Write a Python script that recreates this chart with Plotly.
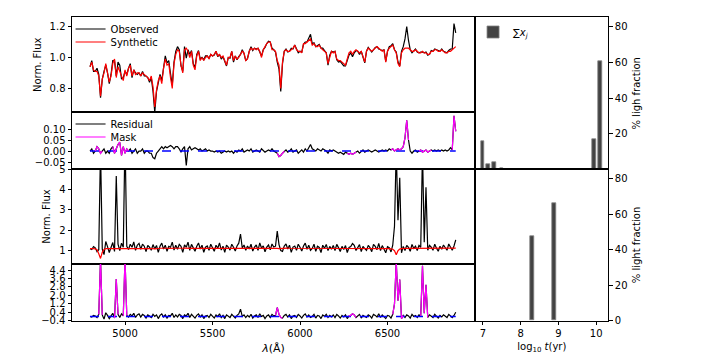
import numpy as np
import plotly.graph_objects as go

# wavelength grid of the spectra (Angstrom), 10 A sampling
wave = np.arange(4800, 6900, 10)

# ---- object 1: synthetic spectrum and residual (observed = synthetic + residual)
syn1 = [
    0.94, 0.97, 0.92, 0.91, 0.91, 0.88, 0.75, 0.86, 0.90, 0.96,
    0.90, 0.84, 0.88, 0.96, 0.99, 0.87, 0.94, 0.91, 0.88, 0.85,
    0.92, 0.88, 0.93, 0.95, 0.88, 0.92, 0.89, 0.90, 0.90, 0.88,
    0.90, 0.89, 0.88, 0.87, 0.85, 0.88, 0.81, 0.68, 0.79, 0.85,
    0.88, 0.83, 0.93, 0.99, 0.95, 0.96, 0.87, 0.80, 0.96, 1.02,
    1.05, 1.04, 0.95, 0.90, 1.05, 1.06, 1.04, 1.00, 1.04, 0.95,
    0.92, 1.01, 1.04, 0.98, 1.00, 0.98, 1.00, 1.01, 0.99, 1.02,
    1.01, 1.02, 1.04, 1.01, 1.02, 1.00, 1.01, 0.98, 0.95, 1.00,
    1.00, 1.04, 0.98, 1.01, 0.99, 1.00, 1.02, 1.04, 1.03, 0.98,
    0.99, 1.04, 1.06, 1.05, 1.06, 1.05, 1.06, 1.04, 1.00, 1.05,
    1.07, 1.09, 1.10, 1.10, 1.05, 1.05, 1.04, 0.98, 0.95, 0.80,
    0.97, 1.04, 1.05, 1.04, 1.04, 1.05, 1.06, 1.08, 1.05, 1.04,
    1.04, 1.03, 1.09, 1.09, 1.10, 1.11, 1.12, 1.08, 1.09, 1.07,
    1.07, 1.08, 1.06, 1.05, 1.04, 1.03, 0.96, 1.01, 1.04, 1.03,
    1.04, 0.99, 0.98, 0.98, 0.97, 0.96, 0.95, 0.99, 1.03, 1.04,
    1.02, 1.04, 1.05, 1.04, 1.03, 1.04, 1.00, 0.97, 1.04, 1.06,
    1.05, 1.04, 1.05, 1.06, 1.07, 1.06, 1.05, 1.04, 1.05, 0.97,
    1.04, 1.06, 1.07, 1.08, 1.05, 1.03, 0.96, 0.94, 1.03, 1.05,
    1.06, 1.06, 1.06, 1.05, 1.04, 1.04, 1.05, 1.04, 1.03, 1.03,
    1.04, 1.03, 1.03, 1.02, 1.02, 1.04, 1.04, 1.05, 1.05, 1.04,
    1.04, 1.05, 1.04, 1.03, 1.03, 1.04, 1.04, 1.05, 1.06, 1.07,
]
res1 = [
    0.00, 0.01, -0.01, 0.00, 0.02, 0.01, -0.01, 0.00, 0.01, -0.01,
    0.00, -0.01, 0.01, 0.02, -0.01, 0.01, 0.03, 0.04, -0.02, 0.02,
    -0.01, 0.01, 0.00, 0.01, -0.01, 0.00, 0.01, -0.01, 0.00, 0.00,
    0.01, -0.01, 0.00, 0.00, -0.01, -0.01, -0.03, -0.035, -0.01, 0.00,
    0.01, 0.02, 0.01, 0.02, 0.015, 0.02, 0.025, 0.02, 0.01, 0.02,
    0.02, 0.01, -0.005, 0.01, 0.02, -0.065, 0.01, 0.02, 0.005, 0.01,
    0.015, 0.01, 0.005, 0.01, 0.00, 0.005, 0.01, 0.00, 0.005, 0.00,
    0.00, -0.005, 0.00, -0.005, 0.00, -0.01, -0.005, 0.00, -0.005, 0.00,
    -0.005, 0.00, -0.01, 0.00, -0.005, 0.005, 0.00, 0.01, -0.005, 0.00,
    0.005, 0.00, 0.01, -0.005, 0.00, 0.005, 0.00, -0.005, 0.01, 0.00,
    -0.005, 0.00, 0.005, 0.00, 0.01, 0.00, -0.005, -0.01, -0.025, -0.02,
    -0.01, 0.00, 0.005, -0.005, 0.00, 0.01, -0.005, 0.00, 0.005, -0.01,
    0.00, 0.005, -0.005, 0.01, 0.00, 0.015, 0.03, 0.01, 0.005, 0.00,
    0.01, 0.005, 0.00, 0.01, 0.005, 0.00, -0.01, 0.005, 0.00, 0.005,
    0.00, -0.005, -0.01, -0.005, -0.01, -0.015, -0.005, -0.01, -0.015, -0.01,
    -0.015, -0.01, -0.005, 0.00, -0.01, 0.00, 0.005, -0.005, 0.00, 0.005,
    0.00, -0.005, 0.00, 0.005, 0.00, -0.005, 0.00, 0.005, 0.00, 0.005,
    0.00, 0.01, 0.005, 0.01, 0.00, 0.005, 0.01, 0.005, 0.01, 0.02,
    0.06, 0.14, 0.05, 0.00, -0.01, 0.00, 0.005, -0.005, 0.00, 0.005,
    -0.005, 0.00, 0.005, -0.005, 0.00, 0.005, 0.00, 0.005, 0.00, 0.005,
    0.00, 0.005, 0.00, 0.005, 0.00, 0.005, 0.015, 0.005, 0.16, 0.09,
]
mask1 = [(4830, 4870), (4930, 5020), (5870, 5910), (6270, 6320),
         (6520, 6620), (6680, 6750), (6870, 6890)]

# ---- object 2: synthetic spectrum and residual
syn2 = [
    1.10, 1.11, 1.10, 1.09, 1.05, 0.85, 0.62, 0.92, 1.06, 1.10,
    1.10, 1.11, 1.11, 1.10, 1.11, 1.12, 1.12, 1.11, 1.12, 1.12,
    1.12, 1.12, 1.11, 1.12, 1.12, 1.13, 1.12, 1.12, 1.11, 1.12,
    1.12, 1.12, 1.11, 1.11, 1.12, 1.12, 1.10, 1.09, 1.11, 1.12,
    1.12, 1.12, 1.13, 1.12, 1.12, 1.11, 1.12, 1.12, 1.13, 1.12,
    1.12, 1.11, 1.12, 1.12, 1.13, 1.12, 1.12, 1.12, 1.11, 1.12,
    1.12, 1.12, 1.13, 1.13, 1.12, 1.12, 1.12, 1.13, 1.12, 1.12,
    1.13, 1.12, 1.12, 1.12, 1.13, 1.13, 1.12, 1.12, 1.12, 1.13,
    1.13, 1.12, 1.12, 1.13, 1.13, 1.12, 1.12, 1.13, 1.13, 1.12,
    1.13, 1.13, 1.12, 1.13, 1.13, 1.13, 1.12, 1.13, 1.13, 1.14,
    1.14, 1.13, 1.13, 1.14, 1.13, 1.13, 1.12, 1.11, 1.10, 1.11,
    1.12, 1.13, 1.13, 1.13, 1.12, 1.12, 1.13, 1.13, 1.12, 1.12,
    1.12, 1.13, 1.13, 1.12, 1.12, 1.12, 1.12, 1.11, 1.12, 1.12,
    1.12, 1.11, 1.11, 1.12, 1.12, 1.11, 1.11, 1.11, 1.12, 1.11,
    1.11, 1.11, 1.10, 1.11, 1.11, 1.11, 1.10, 1.11, 1.11, 1.10,
    1.10, 1.11, 1.11, 1.10, 1.10, 1.11, 1.11, 1.10, 1.11, 1.11,
    1.10, 1.10, 1.11, 1.11, 1.10, 1.11, 1.11, 1.10, 1.10, 1.10,
    1.10, 1.10, 1.09, 1.07, 1.00, 0.80, 1.00, 1.08, 1.10, 1.11,
    1.11, 1.11, 1.11, 1.12, 1.11, 1.11, 1.12, 1.11, 1.11, 1.12,
    1.12, 1.11, 1.12, 1.12, 1.11, 1.12, 1.12, 1.12, 1.12, 1.12,
    1.12, 1.12, 1.13, 1.12, 1.12, 1.13, 1.13, 1.12, 1.13, 1.13,
]
res2 = [
    0.00, -0.05, 0.10, 0.05, -0.10, 0.20, 5.40, 0.15, -0.25, 0.35,
    0.10, -0.20, 0.05, 0.30, -0.15, 3.55, 0.20, -0.10, 0.25, 0.05,
    5.50, 0.10, -0.05, 0.20, 0.05, 0.30, -0.10, 0.15, 0.25, -0.05,
    0.20, 0.10, -0.15, 0.15, 0.05, -0.10, 0.20, 0.00, 0.15, -0.20,
    0.10, 0.25, -0.05, 0.15, -0.15, 0.10, 0.05, 0.30, -0.10, 0.15,
    -0.05, 0.20, 0.10, -0.20, 0.15, 0.05, 0.30, -0.10, 0.20, 0.00,
    -0.15, 0.10, 0.25, -0.05, 0.15, -0.20, 0.05, 0.10, -0.10, 0.20,
    0.05, -0.15, 0.15, 0.00, 0.25, -0.10, 0.10, -0.20, 0.15, 0.05,
    -0.10, 0.20, 0.05, -0.15, 0.10, 0.25, 0.70, 0.00, 0.15, -0.10,
    0.10, -0.05, 0.20, -0.15, 0.05, 0.15, -0.10, 0.25, 0.00, 0.10,
    -0.20, 0.05, 0.15, -0.10, 0.20, 0.05, 0.10, 0.85, 0.20, -0.10,
    -0.15, 0.10, 0.20, -0.05, 0.15, -0.20, 0.05, 0.10, -0.10, 0.20,
    0.05, -0.15, 0.10, 0.25, -0.05, 0.15, -0.10, 0.00, 0.20, -0.15,
    0.10, 0.05, -0.20, 0.15, 0.00, 0.20, -0.10, 0.10, -0.05, 0.15,
    -0.10, 0.20, 0.05, -0.15, 0.10, -0.05, 0.15, -0.20, 0.05, 0.10,
    0.25, 0.15, -0.10, 0.05, 0.20, -0.15, 0.10, 0.00, -0.10, 0.15,
    0.05, -0.15, 0.20, 0.10, -0.05, 0.25, -0.10, 0.15, 0.00, -0.20,
    0.10, 0.05, -0.15, 0.20, 1.20, 5.20, 1.50, 3.50, -0.20, 0.10,
    -0.10, 0.15, 0.05, -0.15, 0.20, 0.00, 0.10, -0.10, 0.15, 0.05,
    4.80, 0.30, 3.00, -0.10, 0.15, 0.05, -0.10, 0.20, 0.00, -0.15,
    0.10, -0.05, 0.15, 0.00, -0.10, 0.20, 0.05, -0.10, 0.10, 0.40,
]
mask2 = [(4850, 4870), (4940, 4960), (4990, 5010), (5860, 5900),
         (6280, 6320), (6530, 6590), (6690, 6730)]

# ---- light fractions per population age
age_top = [7.0, 7.15, 7.3, 7.5, 9.95, 10.1]
frac_top = [15.7, 2.6, 3.9, 0.4, 16.6, 60.8]
age_bot = [8.3, 8.9]
frac_bot = [47.4, 66.0]


def masked(res, spans):
    res = np.asarray(res, float)
    keep = np.zeros(len(wave), bool)
    for lo, hi in spans:
        keep |= (wave >= lo) & (wave <= hi)
    return np.where(keep, res, np.nan)


obs1 = np.array(syn1) + np.array(res1)
obs2 = np.array(syn2) + np.array(res2)
zero = np.zeros(len(wave))

FONT = 'DejaVu Sans'
LW = 1.2

fig = go.Figure()

# panel 1
fig.add_trace(go.Scatter(x=wave, y=obs1, mode='lines', name='Observed',
                         line=dict(color='black', width=LW), xaxis='x', yaxis='y', legend='legend'))
fig.add_trace(go.Scatter(x=wave, y=syn1, mode='lines', name='Synthetic',
                         line=dict(color='red', width=LW), xaxis='x', yaxis='y', legend='legend4'))
# panel 2
fig.add_trace(go.Scatter(x=wave, y=res1, mode='lines', name='Residual',
                         line=dict(color='black', width=LW), xaxis='x2', yaxis='y2', legend='legend2'))
fig.add_trace(go.Scatter(x=wave, y=zero, mode='lines', showlegend=False,
                         line=dict(color='blue', width=1.5, dash='dash'), xaxis='x2', yaxis='y2'))
fig.add_trace(go.Scatter(x=wave, y=masked(res1, mask1), mode='lines', name='Mask',
                         line=dict(color='magenta', width=LW), xaxis='x2', yaxis='y2', legend='legend5'))
# panel 3
fig.add_trace(go.Scatter(x=wave, y=obs2, mode='lines', showlegend=False,
                         line=dict(color='black', width=LW), xaxis='x3', yaxis='y3'))
fig.add_trace(go.Scatter(x=wave, y=syn2, mode='lines', showlegend=False,
                         line=dict(color='red', width=LW), xaxis='x3', yaxis='y3'))
# panel 4
fig.add_trace(go.Scatter(x=wave, y=res2, mode='lines', showlegend=False,
                         line=dict(color='black', width=LW), xaxis='x4', yaxis='y4'))
fig.add_trace(go.Scatter(x=wave, y=zero, mode='lines', showlegend=False,
                         line=dict(color='blue', width=1.5, dash='dash'), xaxis='x4', yaxis='y4'))
fig.add_trace(go.Scatter(x=wave, y=masked(res2, mask2), mode='lines', showlegend=False,
                         line=dict(color='magenta', width=LW), xaxis='x4', yaxis='y4'))
# light fractions
bar_style = dict(color='rgba(20,20,20,0.8)', line=dict(color='rgba(130,130,130,0.8)', width=1))
fig.add_trace(go.Bar(x=age_top, y=frac_top, width=0.1, marker=bar_style,
                     name='∑<i>x<sub>j</sub></i>', xaxis='x5', yaxis='y5', legend='legend3'))
fig.add_trace(go.Bar(x=age_bot, y=frac_bot, width=0.1, marker=bar_style,
                     showlegend=False, xaxis='x6', yaxis='y6'))

XL = [0.1, 0.6597]
XR = [0.6601, 0.8449]
axis = dict(showline=True, mirror=True, linecolor='black', linewidth=1, showgrid=False,
            zeroline=False, ticks='outside', ticklen=3.5, tickwidth=0.8, tickcolor='black',
            automargin=False, tickfont=dict(family=FONT, size=10, color='black'))
hidden_x = dict(axis, ticks='', showticklabels=False)
wl_range = [4697, 7000]


def leg(x, y):
    return dict(x=x, y=y, xanchor='left', yanchor='middle', bgcolor='rgba(0,0,0,0)',
                font=dict(family=FONT, size=10, color='black'), borderwidth=0)


fig.update_layout(
    width=720, height=357,
    margin=dict(l=0, r=0, t=0, b=0),
    paper_bgcolor='white', plot_bgcolor='white',
    font=dict(family=FONT, size=10, color='black'),
    bargap=0,
    xaxis=dict(hidden_x, domain=XL, range=wl_range, anchor='y'),
    yaxis=dict(axis, domain=[0.6854, 0.9515], range=[0.645, 1.26], anchor='x',
               tickvals=[0.8, 1.0, 1.2], ticktext=['0.8', '1.0', '1.2'],
               title=dict(text='Norm. Flux', font=dict(size=10), standoff=6)),
    xaxis2=dict(hidden_x, domain=XL, range=wl_range, anchor='y2'),
    yaxis2=dict(axis, domain=[0.5258, 0.6854], range=[-0.083, 0.176], anchor='x2',
                tickvals=[-0.05, 0, 0.05, 0.10], ticktext=['−0.05', '0.00', '0.05', '0.10']),
    xaxis3=dict(hidden_x, domain=XL, range=wl_range, anchor='y3'),
    yaxis3=dict(axis, domain=[0.2613, 0.5258], range=[0.36, 5.0], anchor='x3',
                tickvals=[1, 2, 3, 4, 5],
                title=dict(text='Norm. Flux', font=dict(size=10), standoff=6)),
    xaxis4=dict(axis, domain=XL, range=wl_range, anchor='y4',
                tickvals=[5000, 5500, 6000, 6500],
                title=dict(text='<i>λ</i>(Å)', font=dict(size=11), standoff=6)),
    yaxis4=dict(axis, domain=[0.1017, 0.2613], range=[-0.4, 5.0], anchor='x4',
                tickvals=[-0.4, 0.4, 1.2, 2.0, 2.8, 3.6, 4.4],
                ticktext=['−0.4', '0.4', '1.2', '2.0', '2.8', '3.6', '4.4']),
    xaxis5=dict(hidden_x, domain=XR, range=[6.8, 10.32], anchor='y5'),
    yaxis5=dict(axis, domain=[0.5258, 0.9515], range=[0, 85.3], anchor='x5', side='right',
                tickvals=[20, 40, 60, 80],
                title=dict(text='% ligh fraction', font=dict(size=10), standoff=6)),
    xaxis6=dict(axis, domain=XR, range=[6.8, 10.32], anchor='y6', tickvals=[7, 8, 9, 10],
                title=dict(text='log<sub>10</sub> <i>t</i>(yr)', font=dict(size=10), standoff=4)),
    yaxis6=dict(axis, domain=[0.1017, 0.5258], range=[0, 85.3], anchor='x6', side='right',
                tickvals=[0, 20, 40, 60, 80],
                title=dict(text='% light fraction', font=dict(size=10), standoff=6)),
    legend=leg(0.098, 1 - 29 / 357),
    legend4=leg(0.098, 1 - 42 / 357),
    legend2=leg(0.098, 1 - 124 / 357),
    legend5=leg(0.098, 1 - 137 / 357),
    legend3=leg(0.657, 1 - 32 / 357),
)

# the page body has a default 8px margin; remove it so the figure fills the window
fig.write_html("out.html", config={'displayModeBar': False},
               post_script="document.body.style.margin='0';document.body.style.overflow='hidden';")
